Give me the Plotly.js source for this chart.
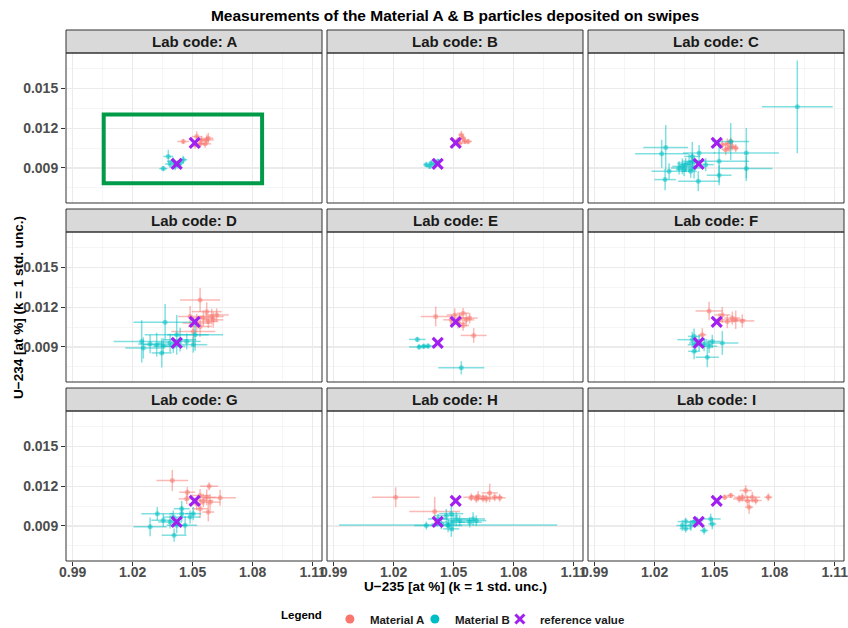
<!DOCTYPE html>
<html>
<head>
<meta charset="utf-8">
<script src="https://cdn.plot.ly/plotly-3.0.1.min.js"></script>
<style>html,body{margin:0;padding:0;background:#fff;width:848px;height:628px;overflow:hidden;}#chart{width:848px;height:628px;}</style>
</head>
<body>
<div id="chart"></div>
<script>
// ---------------- DATA ----------------
const labs = ["A","B","C","D","E","F","G","H","I"];

// Material A (long format: lab, U-235, U-234, std. unc.)
const matA_lab = ["A","A","A","A","A","A","A","A",
  "B","B","B","B","B","B",
  "C","C","C","C","C","C","C",
  "D","D","D","D","D","D","D","D","D","D","D",
  "E","E","E","E","E","E","E","E","E","E",
  "F","F","F","F","F","F","F","F",
  "G","G","G","G","G","G","G","G","G","G","G","G",
  "H","H","H","H","H","H","H","H","H","H",
  "I","I","I","I","I","I","I","I","I","I"];
const matA_x = [1.0453,1.0520,1.0545,1.0570,1.0512,1.0537,1.0562,1.0578,
  1.0522,1.0547,1.0572,1.0530,1.0555,1.0538,
  1.0538,1.0563,1.0588,1.0555,1.0605,1.0572,1.0580,
  1.0537,1.0570,1.0595,1.0620,1.0553,1.0520,1.0537,1.0578,1.0503,1.0487,1.0603,
  1.0410,1.0600,1.0505,1.0530,1.0547,1.0563,1.0580,1.0522,1.0547,1.0488,
  1.0472,1.0538,1.0563,1.0605,1.0638,1.0588,1.0438,1.0522,
  1.0398,1.0582,1.0473,1.0537,1.0570,1.0637,1.0553,1.0520,1.0587,1.0537,1.0470,1.0578,
  1.0210,1.0405,1.0588,1.0622,1.0647,1.0680,1.0705,1.0730,1.0663,1.0613,
  1.0580,1.0550,1.0622,1.0655,1.0663,1.0672,1.0688,1.0705,1.0768,1.0638];
const matA_y = [0.01100,0.01137,0.01112,0.01112,0.01075,0.01082,0.01082,0.01125,
  0.01112,0.01125,0.01100,0.01087,0.01100,0.01150,
  0.01075,0.01084,0.01062,0.01037,0.01050,0.01050,0.01100,
  0.01255,0.01167,0.01130,0.01142,0.01118,0.01080,0.01055,0.01092,0.01017,0.01130,0.01105,
  0.01130,0.00987,0.01142,0.01118,0.01155,0.01105,0.01118,0.01080,0.01062,0.01105,
  0.01172,0.01142,0.01092,0.01105,0.01097,0.01118,0.00992,0.01105,
  0.01243,0.01200,0.01155,0.01130,0.01117,0.01113,0.01092,0.01068,0.01080,0.01030,0.01105,0.01005,
  0.01117,0.01010,0.01117,0.01125,0.01110,0.01150,0.01117,0.01113,0.01105,0.01105,
  0.01130,0.01117,0.01105,0.01168,0.01092,0.01042,0.01117,0.01092,0.01117,0.01117];
const matA_ex = [0.0030,0.0025,0.0030,0.0035,0.0020,0.0025,0.0030,0.0025,
  0.0015,0.0015,0.0020,0.0015,0.0015,0.0015,
  0.0020,0.0020,0.0020,0.0015,0.0015,0.0020,0.0015,
  0.0100,0.0075,0.0060,0.0060,0.0060,0.0070,0.0060,0.0050,0.0110,0.0060,0.0050,
  0.0075,0.0065,0.0040,0.0050,0.0030,0.0040,0.0040,0.0040,0.0030,0.0040,
  0.0068,0.0040,0.0040,0.0050,0.0060,0.0040,0.0020,0.0030,
  0.0079,0.0045,0.0040,0.0050,0.0050,0.0079,0.0050,0.0040,0.0050,0.0040,0.0040,0.0030,
  0.0119,0.0127,0.0040,0.0040,0.0040,0.0040,0.0040,0.0030,0.0040,0.0040,
  0.0020,0.0020,0.0030,0.0030,0.0040,0.0020,0.0040,0.0030,0.0020,0.0040];
const matA_ey = [0.0002,0.0004,0.0003,0.0004,0.0003,0.0003,0.0003,0.0004,
  0.0002,0.0002,0.0002,0.0002,0.0002,0.0003,
  0.0004,0.0004,0.0003,0.0004,0.0003,0.0003,0.0003,
  0.0009,0.0007,0.0006,0.0005,0.0006,0.0007,0.0008,0.0005,0.0011,0.0008,0.0006,
  0.00075,0.00055,0.0005,0.0004,0.0004,0.0005,0.0004,0.0004,0.0004,0.0004,
  0.0007,0.0006,0.0005,0.0007,0.0005,0.0005,0.0005,0.0005,
  0.0008,0.0003,0.0004,0.0005,0.0006,0.0006,0.0005,0.0005,0.0006,0.0007,0.0004,0.0007,
  0.00075,0.0011,0.0003,0.0004,0.0003,0.0007,0.0003,0.0003,0.0003,0.0003,
  0.0002,0.0002,0.0003,0.0004,0.0004,0.0005,0.0004,0.0003,0.0003,0.0003];

// Material B
const matB_lab = ["A","A","A","A","A","A","A","A",
  "B","B","B","B","B",
  "C","C","C","C","C","C","C","C","C","C","C","C","C","C","C","C","C","C","C","C","C","C",
  "D","D","D","D","D","D","D","D","D","D","D","D","D","D",
  "E","E","E","E","E",
  "F","F","F","F","F","F","F","F","F","F",
  "G","G","G","G","G","G","G","G","G","G","G","G",
  "H","H","H","H","H","H","H","H","H","H","H","H","H","H",
  "I","I","I","I","I","I","I","I","I"];
const matB_x = [1.0353,1.0378,1.0403,1.0428,1.0453,1.0412,1.0437,1.0387,
  1.0363,1.0388,1.0405,1.0380,1.0422,
  1.0913,1.0255,1.0235,1.0580,1.0658,1.0658,1.0522,1.0522,1.0418,1.0252,1.0272,1.0322,1.0338,1.0355,1.0372,1.0388,1.0397,1.0380,1.0347,1.0388,1.0422,1.0455,
  1.0362,1.0245,1.0253,1.0320,1.0345,1.0387,1.0420,1.0437,1.0470,1.0503,1.0512,1.0353,1.0403,1.0287,
  1.0318,1.0327,1.0372,1.0350,1.0538,
  1.0388,1.0405,1.0422,1.0447,1.0472,1.0538,1.0463,1.0397,1.0397,1.0488,
  1.0287,1.0323,1.0407,1.0353,1.0387,1.0403,1.0445,1.0462,1.0487,1.0503,1.0445,1.0420,
  1.0472,1.0422,1.0463,1.0488,1.0497,1.0513,1.0530,1.0597,1.0613,1.0580,1.0472,1.0488,1.0363,1.0438,
  1.0355,1.0380,1.0338,1.0397,1.0447,1.0480,1.0488,1.0355,1.0413];
const matB_y = [0.00895,0.00987,0.00950,0.00925,0.00962,0.00912,0.00940,0.00930,
  0.00925,0.00937,0.00925,0.00912,0.00950,
  0.01362,0.01055,0.01007,0.01100,0.01013,0.00895,0.00950,0.00845,0.00800,0.00812,0.00875,0.00900,0.00912,0.00925,0.00937,0.00950,0.00900,0.00875,0.00887,0.00987,0.01013,0.00925,
  0.01087,0.00942,0.00892,0.00917,0.00855,0.00930,0.00992,0.00955,0.00942,0.00917,0.00992,0.00905,0.00905,0.00922,
  0.00957,0.00900,0.00907,0.00905,0.00742,
  0.00955,0.00917,0.00930,0.00917,0.00905,0.00930,0.00822,0.00867,0.00980,0.00942,
  0.00893,0.00993,0.00830,0.00943,0.00930,0.00967,0.00993,0.00905,0.00967,0.00993,0.01030,0.00905,
  0.00908,0.00953,0.00978,0.00993,0.00928,0.00953,0.00940,0.00953,0.00940,0.00928,0.00903,0.00878,0.00903,0.00915,
  0.00933,0.00903,0.00903,0.00928,0.00865,0.00953,0.00915,0.00880,0.00940];
const matB_ex = [0.0020,0.0025,0.0030,0.0020,0.0020,0.0020,0.0020,0.0025,
  0.0015,0.0015,0.0015,0.0015,0.0015,
  0.0177,0.0112,0.0133,0.0093,0.0163,0.0130,0.0150,0.0062,0.0100,0.0054,0.0088,0.0040,0.0050,0.0040,0.0060,0.0050,0.0040,0.0030,0.0040,0.0040,0.0080,0.0040,
  0.0158,0.0140,0.0090,0.0070,0.0050,0.0060,0.0160,0.0080,0.0070,0.0070,0.0140,0.0050,0.0060,0.0060,
  0.0042,0.0050,0.0030,0.0030,0.0115,
  0.0075,0.0040,0.0050,0.0040,0.0040,0.0080,0.0058,0.0030,0.0030,0.0040,
  0.0083,0.0080,0.0062,0.0060,0.0060,0.0050,0.0060,0.0060,0.0050,0.0040,0.0040,0.0050,
  0.0545,0.0050,0.0060,0.0060,0.0060,0.0070,0.0060,0.0060,0.0050,0.0060,0.0070,0.0040,0.0060,0.0050,
  0.0040,0.0040,0.0030,0.0030,0.0020,0.0050,0.0020,0.0030,0.0030];
const matB_ey = [0.0002,0.0005,0.0003,0.0003,0.0003,0.0003,0.0003,0.0003,
  0.0002,0.0002,0.0002,0.0002,0.0002,
  0.0035,0.0017,0.00106,0.0014,0.0019,0.00094,0.0016,0.00075,0.00075,0.0008,0.0006,0.0005,0.0006,0.0005,0.0007,0.0006,0.0008,0.0005,0.0005,0.0011,0.0006,0.0005,
  0.00137,0.0016,0.0008,0.0009,0.0011,0.0007,0.0015,0.0009,0.0006,0.0006,0.0012,0.0006,0.0005,0.0007,
  0.0002,0.0002,0.0002,0.0002,0.0005,
  0.0006,0.0006,0.0006,0.0005,0.0005,0.0009,0.00075,0.0006,0.0006,0.0005,
  0.0007,0.0005,0.0005,0.0005,0.0005,0.0005,0.0006,0.0007,0.0005,0.0005,0.0006,0.0006,
  0.0002,0.0004,0.0005,0.0006,0.0007,0.0005,0.0004,0.0005,0.0004,0.0004,0.0005,0.0006,0.0003,0.0004,
  0.0003,0.0004,0.0004,0.0004,0.0003,0.0004,0.0004,0.0003,0.0003];

// Reference values (Material A, Material B)
const ref_x = [1.051, 1.042];
const ref_y = [0.01090, 0.00930];

const xTickVals = [0.99, 1.02, 1.05, 1.08, 1.11];
const yTickVals = [0.009, 0.012, 0.015];

const titleText = "Measurements of the Material A &amp; B particles deposited on swipes";
const xTitleText = "U\u2212235 [at %] (k = 1 std. unc.)";
const yTitleText = "U\u2212234 [at %] (k = 1 std. unc.)";
const legendNames = ["Material A", "Material B", "reference value"];

// ---------------- STYLE / LAYOUT ----------------
const W = 848, H = 628;
const FONT = "Liberation Sans, Arial, sans-serif";
const colA = "#F8766D", colB = "#00BFC4", colRef = "#A020F0";
const rgbaA = "rgba(248,118,109,0.5)", rgbaB = "rgba(0,191,196,0.5)";

const colLeft = [66, 327, 588], panelW = 256;
const rowTop = [53, 232, 411], panelH = 150, stripH = 23;
const xRange = [0.98665, 0.98665 + panelW * 0.0005];
const yRange = [0.00635, 0.00635 + panelH * 0.0000756];

const px = v => v / W;
const py = v => 1 - v / H;

const traces = [];
const layout = {
  width: W, height: H, autosize: false,
  margin: {l: 0, r: 0, t: 0, b: 0, pad: 0, autoexpand: false},
  paper_bgcolor: "#fff", plot_bgcolor: "#fff",
  font: {family: FONT, color: "#1A1A1A"},
  showlegend: true,
  title: {text: titleText, x: 455 / W, xanchor: "center", y: py(16), yanchor: "middle",
          font: {family: FONT, size: 15.5, weight: "bold", color: "#000"}},
  shapes: [], annotations: [],
  legend: {orientation: "h", x: 457 / W, xanchor: "center", y: py(619), yanchor: "middle",
           font: {family: FONT, size: 11.5, weight: "bold", color: "#1A1A1A"},
           title: {text: "Legend", side: "left", font: {family: FONT, size: 11.5, weight: "bold", color: "#000"}},
           itemsizing: "trace", entrywidth: 40, entrywidthmode: "pixels", bgcolor: "rgba(0,0,0,0)"}
};

function pick(labArr, arr, lab) { return arr.filter((_, i) => labArr[i] === lab); }

labs.forEach((lab, i) => {
  const row = Math.floor(i / 3), col = i % 3;
  const xn = i === 0 ? "xaxis" : "xaxis" + (i + 1);
  const yn = i === 0 ? "yaxis" : "yaxis" + (i + 1);
  const xr = i === 0 ? "x" : "x" + (i + 1);
  const yr = i === 0 ? "y" : "y" + (i + 1);
  const x0 = colLeft[col], x1 = colLeft[col] + panelW;
  const y0 = rowTop[row], y1 = rowTop[row] + panelH;

  layout[xn] = {
    domain: [px(x0), px(x1)], range: xRange, anchor: yr, automargin: false,
    tickmode: "array", tickvals: xTickVals, tickformat: ".2f",
    showgrid: true, gridcolor: "#EBEBEB", gridwidth: 1.1, zeroline: false, showline: false,
    minor: {dtick: 0.015, tick0: 0.99, showgrid: true, gridcolor: "#EFEFEF", gridwidth: 0.6, ticks: ""},
    ticks: row === 2 ? "outside" : "", ticklen: 4, tickwidth: 1, tickcolor: "#333333",
    showticklabels: row === 2, ticklabeloverflow: "allow", ticklabelstandoff: -6,
    tickfont: {family: FONT, size: 14, weight: "bold", color: "#4D4D4D"}
  };
  layout[yn] = {
    domain: [py(y1), py(y0)], range: yRange, anchor: xr, automargin: false,
    tickmode: "array", tickvals: yTickVals, tickformat: ".3f",
    showgrid: true, gridcolor: "#EBEBEB", gridwidth: 1.1, zeroline: false, showline: false,
    minor: {dtick: 0.0015, tick0: 0.0075, showgrid: true, gridcolor: "#EFEFEF", gridwidth: 0.6, ticks: ""},
    ticks: col === 0 ? "outside" : "", ticklen: 4, tickwidth: 1, tickcolor: "#333333",
    showticklabels: col === 0, ticklabeloverflow: "allow",
    tickfont: {family: FONT, size: 14, weight: "bold", color: "#4D4D4D"}
  };

  // Material A
  traces.push({
    type: "scatter", mode: "markers", xaxis: xr, yaxis: yr, showlegend: false, name: "Material A",
    x: pick(matA_lab, matA_x, lab), y: pick(matA_lab, matA_y, lab),
    error_x: {type: "data", array: pick(matA_lab, matA_ex, lab), visible: true, width: 0, thickness: 1.5, color: rgbaA},
    error_y: {type: "data", array: pick(matA_lab, matA_ey, lab), visible: true, width: 0, thickness: 1.5, color: rgbaA},
    marker: {color: rgbaA, size: 5, line: {width: 0}}, hoverinfo: "x+y"
  });
  // Material B
  traces.push({
    type: "scatter", mode: "markers", xaxis: xr, yaxis: yr, showlegend: false, name: "Material B",
    x: pick(matB_lab, matB_x, lab), y: pick(matB_lab, matB_y, lab),
    error_x: {type: "data", array: pick(matB_lab, matB_ex, lab), visible: true, width: 0, thickness: 1.5, color: rgbaB},
    error_y: {type: "data", array: pick(matB_lab, matB_ey, lab), visible: true, width: 0, thickness: 1.5, color: rgbaB},
    marker: {color: rgbaB, size: 5, line: {width: 0}}, hoverinfo: "x+y"
  });
  // Reference values
  traces.push({
    type: "scatter", mode: "markers", xaxis: xr, yaxis: yr, showlegend: false, name: "reference value",
    x: ref_x, y: ref_y,
    marker: {symbol: "x-thin", size: 10, color: colRef, line: {width: 3.2, color: colRef}}, hoverinfo: "x+y"
  });

  // strip
  layout.shapes.push({type: "rect", xref: "paper", yref: "paper", layer: "above",
    x0: px(x0), x1: px(x1), y0: py(y0), y1: py(y0 - stripH),
    fillcolor: "#D9D9D9", line: {color: "#333333", width: 1}});
  // panel border
  layout.shapes.push({type: "rect", xref: "paper", yref: "paper", layer: "above",
    x0: px(x0), x1: px(x1), y0: py(y1), y1: py(y0),
    fillcolor: "rgba(0,0,0,0)", line: {color: "#333333", width: 1}});
  layout.annotations.push({text: "Lab code: " + lab, xref: "paper", yref: "paper",
    x: px((x0 + x1) / 2), y: py(y0 - stripH / 2), xanchor: "center", yanchor: "middle", showarrow: false,
    font: {family: FONT, size: 15, weight: "bold", color: "#1A1A1A"}});
});

// highlight box in panel A
layout.shapes.push({type: "rect", xref: "x", yref: "y", layer: "above",
  x0: 1.0055, x1: 1.0847, y0: 0.00785, y1: 0.01305,
  fillcolor: "rgba(0,0,0,0)", line: {color: "#009B48", width: 4}});

// axis titles
layout.annotations.push({text: xTitleText, xref: "paper", yref: "paper", x: 455 / W, y: py(586),
  xanchor: "center", yanchor: "middle", showarrow: false,
  font: {family: FONT, size: 13.5, weight: "bold", color: "#000"}});
layout.annotations.push({text: yTitleText, xref: "paper", yref: "paper", x: 18 / W, y: py(308),
  xanchor: "center", yanchor: "middle", showarrow: false, textangle: -90,
  font: {family: FONT, size: 13.5, weight: "bold", color: "#000"}});

// legend entries
traces.push({type: "scatter", mode: "markers", x: [null], y: [null], name: legendNames[0],
  marker: {color: colA, size: 9}, xaxis: "x", yaxis: "y", hoverinfo: "skip"});
traces.push({type: "scatter", mode: "markers", x: [null], y: [null], name: legendNames[1],
  marker: {color: colB, size: 9}, xaxis: "x", yaxis: "y", hoverinfo: "skip"});
traces.push({type: "scatter", mode: "markers", x: [null], y: [null], name: legendNames[2], legendwidth: 90,
  marker: {symbol: "x-thin", size: 9, color: colRef, line: {width: 3, color: colRef}}, xaxis: "x", yaxis: "y", hoverinfo: "skip"});

Plotly.newPlot("chart", traces, layout, {staticPlot: true, displayModeBar: false});
</script>
</body>
</html>
